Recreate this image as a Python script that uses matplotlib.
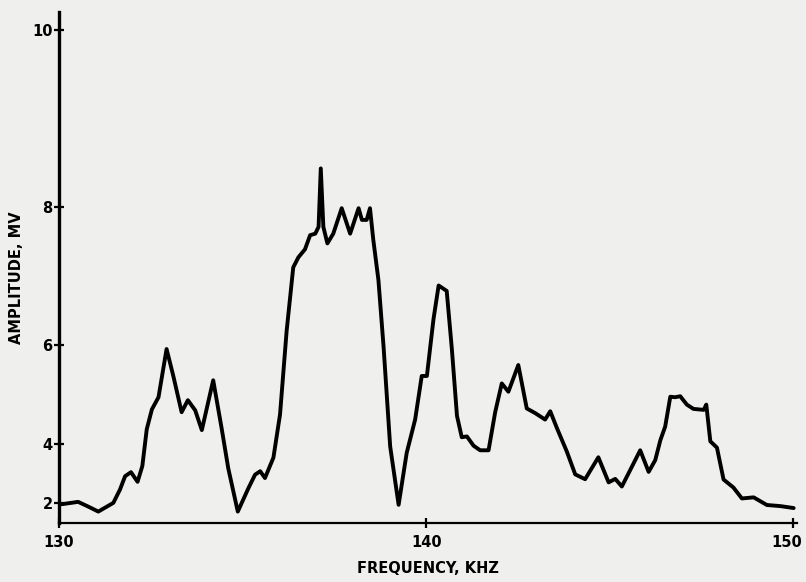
import numpy as np
import matplotlib
matplotlib.use("Agg")
import matplotlib.pyplot as plt
import matplotlib.transforms as mtransforms

# frequency (kHz) and amplitude (mV)
freq = [130.07, 130.52, 130.80, 131.07, 131.48, 131.66, 131.80, 131.96, 132.14, 132.27,
        132.39, 132.53, 132.71, 132.93, 133.11, 133.34, 133.51, 133.71, 133.89, 134.20,
        134.43, 134.61, 134.87, 135.16, 135.34, 135.48, 135.61, 135.84, 136.02, 136.20,
        136.38, 136.52, 136.70, 136.84, 136.98, 137.07, 137.13, 137.20, 137.31, 137.47,
        137.70, 137.93, 138.16, 138.25, 138.38, 138.47, 138.56, 138.70, 138.84, 139.02,
        139.25, 139.47, 139.70, 139.88, 140.02, 140.20, 140.34, 140.56, 140.70, 140.84,
        140.97, 141.11, 141.29, 141.47, 141.70, 141.88, 142.06, 142.24, 142.51, 142.74,
        142.97, 143.24, 143.38, 143.56, 143.83, 144.06, 144.33, 144.69, 144.97, 145.15,
        145.33, 145.60, 145.83, 146.06, 146.24, 146.38, 146.51, 146.65, 146.78, 146.92,
        147.10, 147.28, 147.56, 147.63, 147.74, 147.92, 148.10, 148.37, 148.60, 148.92,
        149.28, 149.65, 150.01]
amplitude = [1.95, 2.07, 1.82, 1.52, 2.02, 2.60, 3.08, 3.21, 2.89, 3.40,
             4.36, 4.80, 5.05, 5.94, 5.47, 4.74, 4.99, 4.78, 4.34, 5.38,
             4.38, 3.33, 1.52, 2.66, 3.13, 3.24, 3.02, 3.64, 4.69, 6.24,
             7.20, 7.34, 7.45, 7.64, 7.66, 7.75, 8.48, 7.75, 7.53, 7.66,
             7.99, 7.66, 7.99, 7.84, 7.84, 7.99, 7.58, 7.02, 5.98, 3.94,
             1.92, 3.77, 4.58, 5.46, 5.46, 6.43, 6.94, 6.86, 5.94, 4.66,
             4.17, 4.19, 3.96, 3.84, 3.84, 4.74, 5.32, 5.16, 5.66, 4.82,
             4.72, 4.58, 4.76, 4.39, 3.81, 3.14, 2.98, 3.65, 2.87, 2.99,
             2.72, 3.37, 3.84, 3.22, 3.57, 4.10, 4.42, 5.06, 5.05, 5.07,
             4.90, 4.81, 4.79, 4.90, 4.07, 3.91, 2.97, 2.68, 2.23, 2.28,
             1.91, 1.85, 1.74]

xticks = [130, 140, 150]
yticks = [2, 4, 6, 8, 10]

bg = "#efefed"
fig = plt.figure(figsize=(8.06, 5.82), dpi=100, facecolor=bg)
ax = fig.add_axes([0.0732, 0.1014, 0.9156, 0.878])
ax.set_facecolor(bg)

ax.plot(freq, amplitude, color="black", lw=2.8,
        solid_joinstyle="round", solid_capstyle="round")

# amplitude axis is square-law spaced
ax.set_yscale("function", functions=(lambda v: np.square(v),
                                     lambda v: np.sqrt(np.clip(v, 0, None))))
ax.set_xlim(130, 150.1)
ax.set_ylim(0, 10.18)

ax.spines["top"].set_visible(False)
ax.spines["right"].set_visible(False)
ax.spines["left"].set_linewidth(2.4)
ax.spines["bottom"].set_linewidth(1.6)

ax.set_xticks(xticks)
ax.set_xticklabels([str(t) for t in xticks])
ax.set_yticks(yticks)
ax.set_yticklabels([str(t) for t in yticks])
ax.minorticks_off()
ax.tick_params(axis="both", direction="inout", length=7, width=1.6, labelsize=10.5)
ax.tick_params(axis="y", pad=1)
ax.tick_params(axis="x", pad=5)
for lab in ax.get_xticklabels() + ax.get_yticklabels():
    lab.set_fontweight("bold")

# keep the last frequency label inside the page
last = ax.get_xticklabels()[-1]
last.set_transform(last.get_transform() +
                   mtransforms.ScaledTranslation(-5 / 72, 0, fig.dpi_scale_trans))

ax.set_xlabel("FREQUENCY, KHZ", fontsize=10.5, fontweight="bold", labelpad=8)
ax.set_ylabel("AMPLITUDE, MV", fontsize=10.5, fontweight="bold")
ax.yaxis.set_label_coords(-0.047, 0.48)

fig.savefig("out.png", dpi=100, facecolor=bg)
